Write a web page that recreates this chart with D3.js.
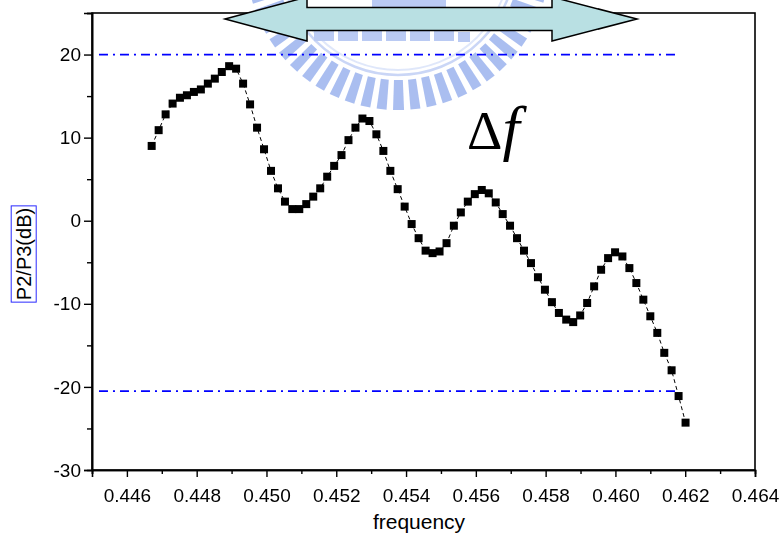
<!DOCTYPE html>
<html>
<head>
<meta charset="utf-8">
<script src="https://cdn.jsdelivr.net/npm/d3@7"></script>
<style>
body { margin: 0; background: #fff; }
svg { display: block; }
</style>
</head>
<body>
<svg id="chart" width="780" height="537"></svg>
<script>
const freq = [
  0.44671, 0.44691, 0.44711, 0.44731, 0.44752, 0.44772, 0.44792, 0.44812, 0.44832, 0.44852,
  0.44872, 0.44893, 0.44913, 0.44933, 0.44953, 0.44973, 0.44993, 0.45013, 0.45033, 0.45053,
  0.45074, 0.45094, 0.45114, 0.45134, 0.45154, 0.45174, 0.45194, 0.45215, 0.45235, 0.45255,
  0.45275, 0.45295, 0.45315, 0.45335, 0.45355, 0.45376, 0.45396, 0.45416, 0.45436, 0.45456,
  0.45476, 0.45496, 0.45516, 0.45537, 0.45557, 0.45577, 0.45597, 0.45617, 0.45637, 0.45657,
  0.45677, 0.45698, 0.45718, 0.45738, 0.45758, 0.45778, 0.45798, 0.45818, 0.45838, 0.45859,
  0.45879, 0.45899, 0.45919, 0.45939, 0.45959, 0.45979, 0.45999, 0.46020, 0.46040, 0.46060,
  0.46080, 0.46100, 0.46120, 0.46140, 0.46161, 0.46181, 0.46201
];
const ratio = [
  9.0, 10.9, 12.8, 14.1, 14.8, 15.1, 15.5, 15.8, 16.5, 17.1,
  17.9, 18.6, 18.3, 16.5, 14.0, 11.2, 8.6, 6.0, 3.9, 2.3,
  1.4, 1.4, 2.0, 2.9, 3.9, 5.3, 6.6, 7.9, 9.7, 11.2,
  12.3, 12.0, 10.4, 8.4, 6.0, 3.8, 1.7, -0.4, -2.1, -3.6,
  -3.9, -3.7, -2.7, -0.6, 1.0, 2.3, 3.2, 3.7, 3.3, 2.2,
  0.8, -0.6, -2.1, -3.6, -5.1, -6.8, -8.3, -9.8, -11.1, -11.9,
  -12.2, -11.4, -9.9, -7.9, -5.9, -4.5, -3.8, -4.3, -5.7, -7.5,
  -9.5, -11.5, -13.5, -15.9, -18.0, -21.1, -24.3
];

const xMajor = [0.446, 0.448, 0.450, 0.452, 0.454, 0.456, 0.458, 0.460, 0.462, 0.464];
const xMinor = [0.445, 0.447, 0.449, 0.451, 0.453, 0.455, 0.457, 0.459, 0.461, 0.463];
const yMajor = [-30, -20, -10, 0, 10, 20];
const yMinor = [-25, -15, -5, 5, 15, 25];

// the two dash-dot reference levels and their extent
const refLevels = [20, -20.5];
const refFrom = 0.4452, refTo = 0.4618;

const svg = d3.select("#chart");
const font = "'Liberation Sans', Arial, sans-serif";

const x = d3.scaleLinear().domain([0.445, 0.464]).range([92, 755]);
const y = d3.scaleLinear().domain([-30, 25]).range([470, 13]);

// ---------- faded logo watermark behind the plot ----------
const wm = svg.append("g").attr("opacity", 0.7);
const wcx = 398, wcy = -42;
for (let a = 0; a < 360; a += 6.2) {
  wm.append("path")
    .attr("d", "M-4,122 L4,122 L5,152 L-5,152 Z")
    .attr("fill", "#86a3ea")
    .attr("transform", `translate(${wcx},${wcy}) rotate(${a})`);
}
wm.append("circle").attr("cx", wcx).attr("cy", wcy).attr("r", 117)
  .attr("fill", "none").attr("stroke", "#b4c5f2").attr("stroke-width", 2.5);
wm.append("circle").attr("cx", wcx).attr("cy", wcy).attr("r", 112)
  .attr("fill", "none").attr("stroke", "#d2ddf8").attr("stroke-width", 2);
[[314, 31, 20], [338, 31, 20], [362, 31, 20], [386, 31, 20], [410, 31, 20], [434, 31, 20], [458, 32, 12], [372, 0, 74]]
  .forEach(([bx, by, bw]) => {
    wm.append("rect").attr("x", bx).attr("y", by).attr("width", bw).attr("height", 10)
      .attr("fill", "#9db3ee");
  });

// ---------- frame and axes ----------
svg.append("rect")
  .attr("x", x.range()[0]).attr("y", y.range()[1])
  .attr("width", x.range()[1] - x.range()[0]).attr("height", y.range()[0] - y.range()[1])
  .attr("fill", "none").attr("stroke", "#000").attr("stroke-width", 1.6);

svg.append("g").attr("transform", `translate(0,${y.range()[0]})`)
  .call(d3.axisBottom(x).tickValues(xMajor).tickSize(7).tickPadding(12).tickFormat(d3.format(".3f")));
svg.append("g").attr("transform", `translate(0,${y.range()[0]})`)
  .call(d3.axisBottom(x).tickValues(xMinor).tickSize(4).tickFormat(""));

svg.append("g").attr("transform", `translate(${x.range()[0]},0)`)
  .call(d3.axisLeft(y).tickValues(yMajor).tickSize(8).tickPadding(3).tickFormat(d => String(d)));
svg.append("g").attr("transform", `translate(${x.range()[0]},0)`)
  .call(d3.axisLeft(y).tickValues(yMinor).tickSize(5).tickFormat(""));

svg.selectAll(".domain").attr("stroke", "#000").attr("stroke-width", 1.6);
svg.selectAll(".tick line").attr("stroke", "#000").attr("stroke-width", 1.4);
svg.selectAll(".tick text")
  .attr("fill", "#000")
  .style("font-family", font)
  .style("font-size", "19px");

// axis titles
svg.append("text")
  .attr("x", 419).attr("y", 529)
  .attr("text-anchor", "middle")
  .style("font-family", font)
  .style("font-size", "21px")
  .text("frequency");

const yt = svg.append("g").attr("transform", "translate(24,254) rotate(-90)");
const ytText = yt.append("text")
  .attr("text-anchor", "middle").attr("dy", "0.36em")
  .style("font-family", font)
  .style("font-size", "20px")
  .text("P2/P3(dB)");
const bb = ytText.node().getBBox();
yt.insert("rect", "text")
  .attr("x", bb.x - 2).attr("y", bb.y - 2).attr("width", bb.width + 4).attr("height", bb.height + 3)
  .attr("fill", "none").attr("stroke", "#2a2aff").attr("stroke-width", 1);

// ---------- reference levels ----------
svg.selectAll(".ref").data(refLevels).join("line")
  .attr("class", "ref")
  .attr("x1", x(refFrom)).attr("x2", x(refTo))
  .attr("y1", d => y(d)).attr("y2", d => y(d))
  .attr("stroke", "#0000ff").attr("stroke-width", 1.8)
  .attr("stroke-dasharray", "9,5,2,5");

// ---------- data ----------
const pts = freq.map((f, i) => ({ f, v: ratio[i] }));
svg.append("path").datum(pts)
  .attr("fill", "none").attr("stroke", "#000").attr("stroke-width", 1)
  .attr("stroke-dasharray", "4,3")
  .attr("d", d3.line().x(d => x(d.f)).y(d => y(d.v)));

svg.selectAll(".pt").data(pts).join("rect")
  .attr("class", "pt")
  .attr("x", d => x(d.f) - 4).attr("y", d => y(d.v) - 4)
  .attr("width", 8).attr("height", 8)
  .attr("fill", "#000");

// ---------- annotation: double arrow and delta f ----------
const ax0 = 225, ax1 = 637, axb0 = 307, axb1 = 552, aMid = 19, sh = 11.5, hh = 22;
svg.append("polygon")
  .attr("points", [
    [ax0, aMid], [axb0, aMid - hh], [axb0, aMid - sh], [axb1, aMid - sh], [axb1, aMid - hh],
    [ax1, aMid], [axb1, aMid + hh], [axb1, aMid + sh], [axb0, aMid + sh], [axb0, aMid + hh]
  ].map(p => p.join(",")).join(" "))
  .attr("fill", "#b9e0e3").attr("stroke", "#000").attr("stroke-width", 1.5);

const df = svg.append("text")
  .attr("x", 467).attr("y", 149)
  .style("font-family", "'Liberation Serif', 'Times New Roman', serif");
df.append("tspan").style("font-size", "55px").text("Δ");
df.append("tspan").style("font-size", "62px").style("font-style", "italic").text("f");
</script>
</body>
</html>
